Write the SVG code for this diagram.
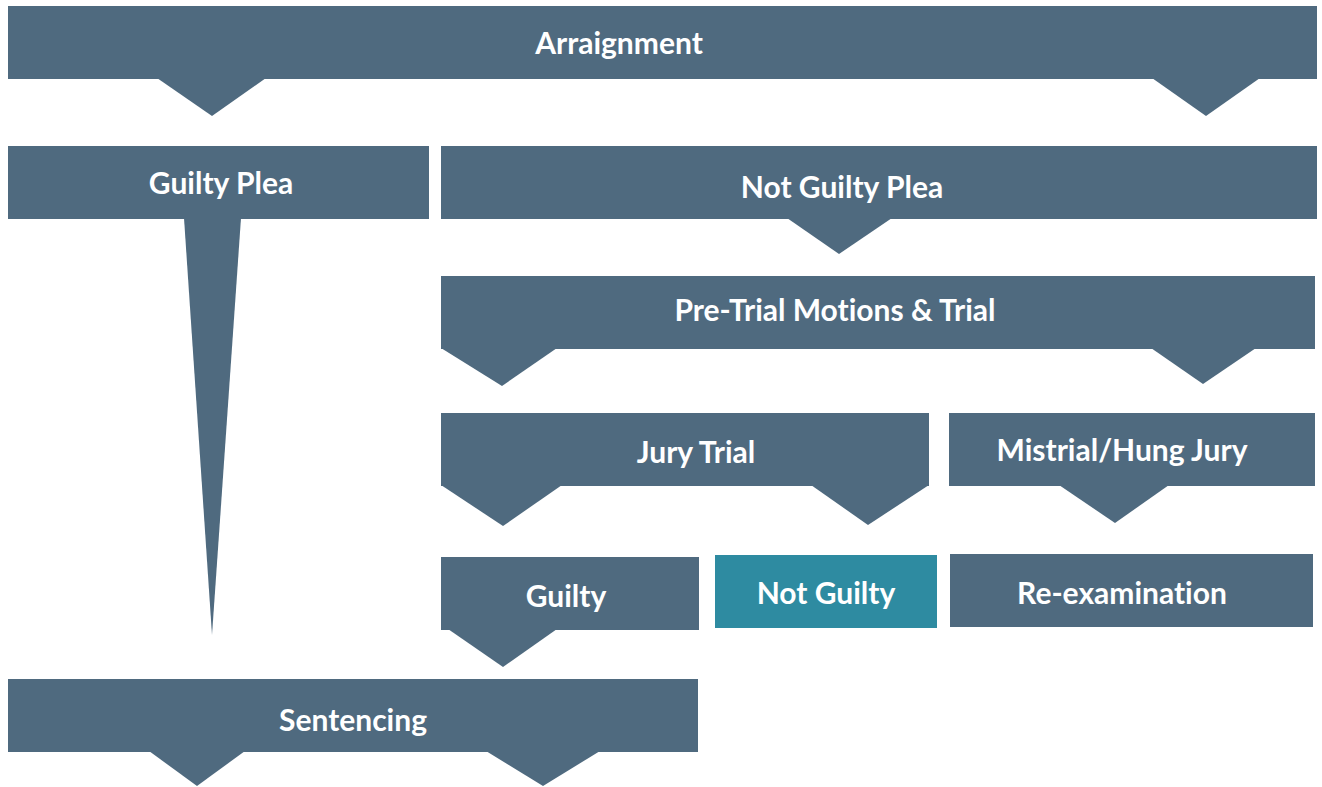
<svg xmlns="http://www.w3.org/2000/svg" width="1322" height="787" viewBox="0 0 1322 787">
<style>
.box{fill:#4F6A7F}
.teal{fill:#2E8BA1}
.ptr{fill:#4F6A7F}
.lbl{font-family:Lato,"Open Sans","Liberation Sans",sans-serif;font-weight:bold;font-size:30px;fill:#FFFFFF;text-anchor:middle;font-variant-ligatures:none}
</style>
<rect width="1322" height="787" fill="#FFFFFF"/>
<g id="connectors">
<polygon class="ptr" points="157,78 266,78 212,116"/>
<polygon class="ptr" points="1152,78 1260,78 1206,116"/>
<polygon class="ptr" points="184,218 241,218 212,635"/>
<polygon class="ptr" points="787,218 892,218 839,254"/>
<polygon class="ptr" points="441,348 557,348 502,386"/>
<polygon class="ptr" points="1151,348 1256,348 1203,384"/>
<polygon class="ptr" points="441,485 562,485 503,526"/>
<polygon class="ptr" points="811,485 929,485 868,525"/>
<polygon class="ptr" points="1059,485 1169,485 1115,523"/>
<polygon class="ptr" points="448,629 557,629 503,667"/>
<polygon class="ptr" points="149,751 245,751 197,786"/>
<polygon class="ptr" points="486,751 600,751 543,786"/>
</g>
<g id="arraignment">
<rect class="box" x="8" y="6" width="1309" height="73"/>
<text class="lbl" x="619" y="54">Arraignment</text>
</g>
<g id="guilty-plea">
<rect class="box" x="8" y="146" width="421" height="73"/>
<text class="lbl" x="221" y="194">Guilty Plea</text>
</g>
<g id="not-guilty-plea">
<rect class="box" x="441" y="146" width="876" height="73"/>
<text class="lbl" x="842" y="198">Not Guilty Plea</text>
</g>
<g id="pre-trial">
<rect class="box" x="441" y="276" width="874" height="73"/>
<text class="lbl" x="835" y="321">Pre-Trial Motions &amp; Trial</text>
</g>
<g id="jury-trial">
<rect class="box" x="441" y="413" width="488" height="73"/>
<text class="lbl" x="696" y="463">Jury Trial</text>
</g>
<g id="mistrial">
<rect class="box" x="949" y="413" width="366" height="73"/>
<text class="lbl" x="1122" y="461">Mistrial/Hung Jury</text>
</g>
<g id="guilty">
<rect class="box" x="441" y="557" width="258" height="73"/>
<text class="lbl" x="566" y="607">Guilty</text>
</g>
<g id="not-guilty">
<rect class="teal" x="715" y="555" width="222" height="73"/>
<text class="lbl" x="826" y="604">Not Guilty</text>
</g>
<g id="re-examination">
<rect class="box" x="950" y="554" width="363" height="73"/>
<text class="lbl" x="1122" y="604">Re-examination</text>
</g>
<g id="sentencing">
<rect class="box" x="8" y="679" width="690" height="73"/>
<text class="lbl" x="353" y="731">Sentencing</text>
</g>
</svg>
